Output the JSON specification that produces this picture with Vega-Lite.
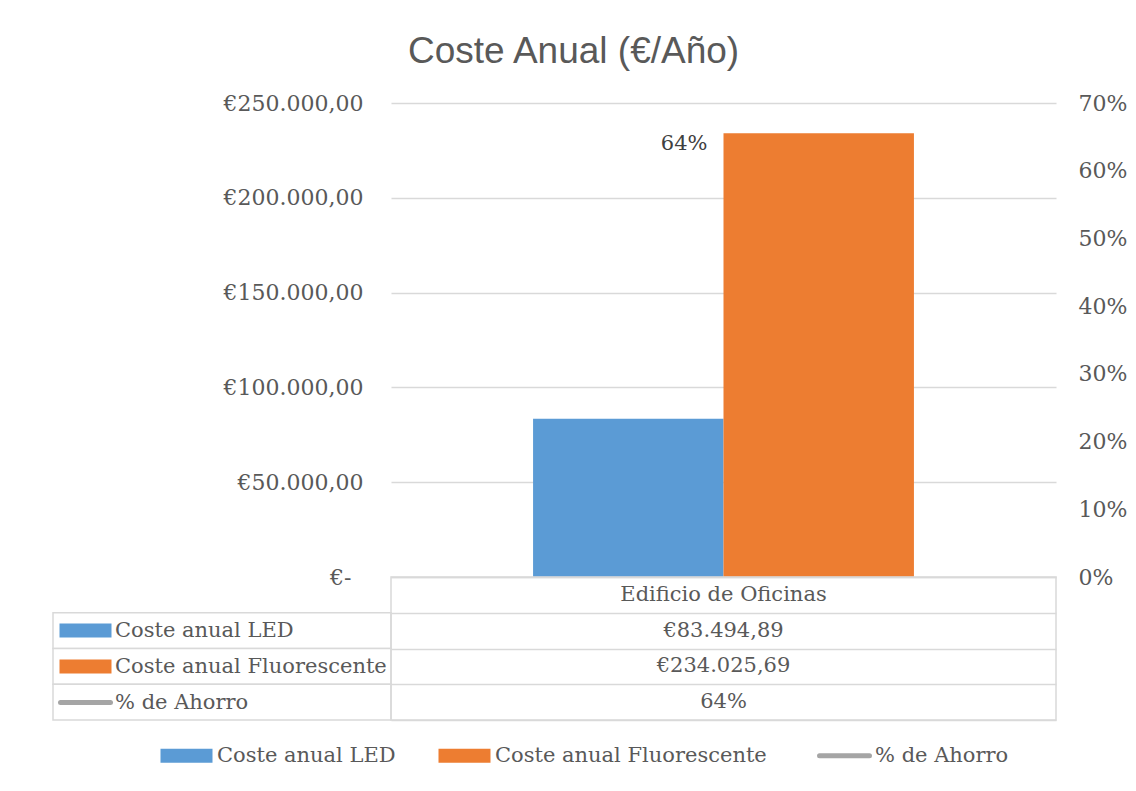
{
  "$schema": "https://vega.github.io/schema/vega-lite/v6.json",
  "padding": {"left": 52, "top": 33, "right": 10, "bottom": 10},
  "background": "white",
  "datasets": {
    "costes": [
      {"categoria": "Edificio de Oficinas", "serie": "Coste anual LED", "valor": 83494.89},
      {"categoria": "Edificio de Oficinas", "serie": "Coste anual Fluorescente", "valor": 234025.69},
      {"categoria": "Edificio de Oficinas", "serie": "% de Ahorro", "valor": 0.64}
    ]
  },
  "title": {"text": "Coste Anual (€/Año)", "font": "Liberation Sans", "fontSize": 37, "fontWeight": "normal", "color": "#595959", "anchor": "middle", "offset": 21, "dx": -16},
  "columns": 2,
  "spacing": 0,
  "bounds": "flush",
  "resolve": {"scale": {"fill": "independent"}, "legend": {"fill": "independent"}},
  "concat": [
    {
      "width": 338, "height": 474,
      "view": {"stroke": null},
      "data": {"name": "costes"},
      "transform": [{"filter": "false"}],
      "mark": "text",
      "encoding": {}
    },
    {
      "width": 665, "height": 474,
      "view": {"stroke": null},
      "data": {"name": "costes"},
      "layer": [
        {
          "transform": [{"filter": "datum.serie !== '% de Ahorro'"}],
          "mark": {"type": "bar"},
          "encoding": {
            "x": {"field": "categoria", "type": "nominal", "axis": null, "scale": {"paddingInner": 0, "paddingOuter": 0.373}},
            "xOffset": {"field": "serie", "type": "nominal", "sort": ["Coste anual LED", "Coste anual Fluorescente"], "scale": {"paddingInner": 0, "paddingOuter": 0}},
            "y": {"field": "valor", "type": "quantitative", "scale": {"domain": [0, 250000], "nice": false},
              "axis": {"values": [0, 50000, 100000, 150000, 200000, 250000], "format": "$,.2f", "labelExpr": "datum.value === 0 ? '€-' : datum.label", "labelPadding": {"condition": {"test": "datum.value === 0", "value": 40}, "value": 28}, "grid": true, "gridColor": "#d9d9d9", "gridWidth": 1.5, "domain": false, "ticks": false, "title": null}},
            "color": {"field": "serie", "type": "nominal",
              "scale": {"domain": ["Coste anual LED", "Coste anual Fluorescente", "% de Ahorro"], "range": ["#5B9BD5", "#ED7D31", "#A5A5A5"]},
              "legend": {"orient": "none", "legendX": 123, "legendY": 642, "direction": "horizontal", "title": null, "symbolSize": 196, "labelOffset": 20, "columnPadding": 42, "labelLimit": 400,
                "encode": {"symbols": {"update": {
                  "shape": {"signal": "datum.value === '% de Ahorro' ? 'M-3.57,0H3.57' : 'M-3.714,-1H3.714V1H-3.714Z'"},
                  "fill": {"signal": "datum.value === '% de Ahorro' ? 'transparent' : datum.value === 'Coste anual LED' ? '#5B9BD5' : '#ED7D31'"},
                  "stroke": {"signal": "datum.value === '% de Ahorro' ? '#A5A5A5' : 'transparent'"},
                  "strokeWidth": {"signal": "datum.value === '% de Ahorro' ? 5 : 0"},
                  "strokeCap": {"value": "round"},
                  "opacity": {"value": 1}
                }}}}
            }
          }
        },
        {
          "transform": [{"filter": "datum.serie === '% de Ahorro'"}],
          "encoding": {
            "x": {"field": "categoria", "type": "nominal"},
            "y": {"field": "valor", "type": "quantitative", "scale": {"domain": [0, 0.7], "nice": false},
              "axis": {"orient": "right", "values": [0, 0.1, 0.2, 0.3, 0.4, 0.5, 0.6, 0.7], "format": ".0%", "grid": false, "domain": false, "ticks": false, "labelPadding": 22, "title": null}}
          },
          "layer": [
            {"mark": {"type": "line", "strokeWidth": 5}, "encoding": {"color": {"field": "serie", "type": "nominal"}}},
            {"mark": {"type": "text", "align": "right", "baseline": "middle", "dx": -16, "fontSize": 21, "font": "DejaVu Serif", "color": "#404040"},
              "encoding": {"text": {"field": "valor", "type": "quantitative", "format": ".0%"}}}
          ]
        }
      ],
      "resolve": {"scale": {"y": "independent"}}
    },
    {
      "width": 338, "height": 143,
      "view": {"stroke": null},
      "data": {"name": "costes"},
      "layer": [
        {
          "mark": {"type": "rect", "fill": "white", "stroke": "#d9d9d9", "strokeWidth": 1.5},
          "encoding": {
            "y": {"field": "serie", "type": "nominal", "scale": {"domain": ["Edificio de Oficinas", "Coste anual LED", "Coste anual Fluorescente", "% de Ahorro"], "paddingInner": 0, "paddingOuter": 0}, "axis": null}
          }
        },
        {
          "mark": {"type": "bar", "opacity": 0},
          "encoding": {
            "fill": {"field": "serie", "type": "nominal",
              "scale": {"domain": ["Coste anual LED", "Coste anual Fluorescente", "% de Ahorro"], "range": ["#5B9BD5", "#ED7D31", "#A5A5A5"]},
              "legend": {"orient": "none", "legendX": 22, "legendY": 43, "direction": "vertical", "title": null, "symbolSize": 196, "labelOffset": 19, "rowPadding": 14, "gridAlign": "all", "labelLimit": 400,
                "encode": {"symbols": {"update": {
                  "shape": {"signal": "datum.value === '% de Ahorro' ? 'M-3.57,0H3.57' : 'M-3.714,-1H3.714V1H-3.714Z'"},
                  "fill": {"signal": "datum.value === '% de Ahorro' ? 'transparent' : datum.value === 'Coste anual LED' ? '#5B9BD5' : '#ED7D31'"},
                  "stroke": {"signal": "datum.value === '% de Ahorro' ? '#A5A5A5' : 'transparent'"},
                  "strokeWidth": {"signal": "datum.value === '% de Ahorro' ? 5 : 0"},
                  "strokeCap": {"value": "round"},
                  "opacity": {"value": 1}
                }}}}
            }
          }
        }
      ]
    },
    {
      "width": 665, "height": 143,
      "view": {"stroke": "#d9d9d9", "strokeWidth": 1.5},
      "data": {"name": "costes"},
      "layer": [
        {
          "transform": [{"filter": "datum.serie === 'Coste anual LED'"}],
          "mark": {"type": "text"},
          "encoding": {
            "y": {"field": "categoria", "type": "nominal", "scale": {"domain": ["Edificio de Oficinas", "Coste anual LED", "Coste anual Fluorescente", "% de Ahorro"], "paddingInner": 0, "paddingOuter": 0},
              "axis": {"grid": true, "tickBand": "extent", "gridColor": "#d9d9d9", "gridWidth": 1.5, "labels": false, "ticks": false, "domain": false, "title": null}},
            "text": {"field": "categoria", "type": "nominal"}
          }
        },
        {
          "transform": [{"filter": "datum.serie !== '% de Ahorro'"}],
          "mark": {"type": "text"},
          "encoding": {
            "y": {"field": "serie", "type": "nominal"},
            "text": {"field": "valor", "type": "quantitative", "format": "$,.2f"}
          }
        },
        {
          "transform": [{"filter": "datum.serie === '% de Ahorro'"}],
          "mark": {"type": "text"},
          "encoding": {
            "y": {"field": "serie", "type": "nominal"},
            "text": {"field": "valor", "type": "quantitative", "format": ".0%"}
          }
        }
      ]
    }
  ],
  "config": {
    "locale": {"number": {"decimal": ",", "thousands": ".", "grouping": [3], "currency": ["€", ""]}},
    "font": "DejaVu Serif",
    "axis": {"labelFont": "DejaVu Serif", "labelFontSize": 22, "labelColor": "#595959"},
    "legend": {"labelFont": "DejaVu Serif", "labelFontSize": 21, "labelColor": "#595959", "padding": 0},
    "text": {"font": "DejaVu Serif", "fontSize": 21, "color": "#595959"},
    "view": {"stroke": null}
  }
}
